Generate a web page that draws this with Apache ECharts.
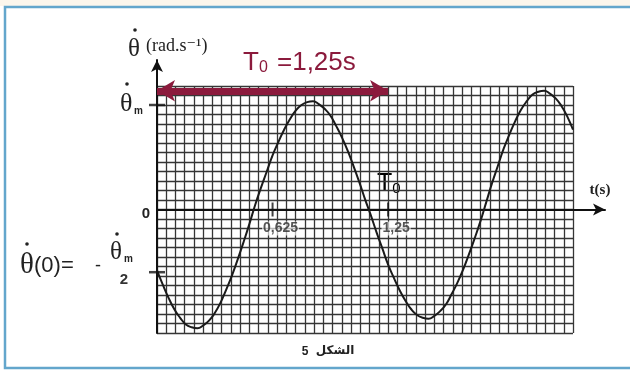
<!DOCTYPE html>
<html style="height: 100%">
<head>
    <meta charset="utf-8">
</head>
<body style="height: 100%; margin: 0; background: #fff">
<div id="container" style="width: 630px; height: 371px"></div>
<script type="text/javascript" src="https://cdn.jsdelivr.net/npm/echarts@6/dist/echarts.min.js"></script>
<script type="text/javascript">
// time (s) and angular velocity (in small divisions)
var times = [0, 0.03125, 0.0625, 0.09375, 0.125, 0.15625, 0.1875, 0.21875, 0.25, 0.28125,
             0.3125, 0.34375, 0.375, 0.40625, 0.4375, 0.46875, 0.5, 0.53125, 0.5625, 0.59375,
             0.625, 0.65625, 0.6875, 0.71875, 0.75, 0.78125, 0.8125, 0.84375, 0.875, 0.90625,
             0.9375, 0.96875, 1.0, 1.03125, 1.0625, 1.09375, 1.125, 1.15625, 1.1875, 1.21875,
             1.25, 1.28125, 1.3125, 1.34375, 1.375, 1.40625, 1.4375, 1.46875, 1.5, 1.53125,
             1.5625, 1.59375, 1.625, 1.65625, 1.6875, 1.71875, 1.75, 1.78125, 1.8125, 1.84375,
             1.875, 1.90625, 1.9375, 1.96875, 2.0, 2.03125, 2.0625, 2.09375, 2.125, 2.15625,
             2.1875, 2.21875, 2.25];
var omega = [-6.4, -7.9, -9.3, -10.5, -11.4, -12.1, -12.4, -12.5, -12.2, -11.7,
             -10.9, -9.8, -8.4, -6.9, -5.2, -3.4, -1.5, 0.5, 2.3, 4.0,
             5.7, 7.1, 8.4, 9.5, 10.4, 11.0, 11.3, 11.4, 11.1, 10.6,
             9.9, 8.8, 7.6, 6.2, 4.6, 2.9, 1.1, -0.6, -2.4, -4.1,
             -5.8, -7.2, -8.5, -9.6, -10.5, -11.1, -11.4, -11.5, -11.2, -10.7,
             -10.0, -8.9, -7.7, -6.3, -4.7, -3.0, -1.2, 0.8, 2.8, 4.6,
             6.4, 7.9, 9.3, 10.5, 11.4, 12.1, 12.4, 12.5, 12.2, 11.7,
             10.9, 9.8, 8.4];
var xTickValues = [0.625, 1.25];
var xTickLabels = ['0,625', '1,25'];
var yMarkValues = [11.0, -6.6];      // θm and -θm/2
var periodFrom = 0, periodTo = 1.25, periodLevel = 12.5;

var dom = document.getElementById("container");
var myChart = echarts.init(dom);

var curve = [];
for (var i = 0; i < times.length; i++) {
    curve.push([times[i], omega[i]]);
}
var xTicks = xTickValues.map(function (v) { return [v, 0]; });
var yMarks = yMarkValues.map(function (v) { return [0, v]; });

var serif = "'Liberation Serif', 'DejaVu Serif', serif";
var sans = "'Liberation Sans', 'DejaVu Sans', sans-serif";
var red = '#8b1a3c';

function txt(x, y, text, font, color, align) {
    return {
        type: 'text', x: x, y: y, silent: true,
        style: { text: text, font: font, fill: color || '#222',
                 textAlign: align || 'left', textVerticalAlign: 'middle' }
    };
}
// the dot of a time derivative, above a theta
function dot(x, y) {
    return { type: 'circle', silent: true, shape: { cx: x, cy: y, r: 1.8 }, style: { fill: '#222' } };
}

option = {
    backgroundColor: '#ffffff',
    animation: false,
    grid: [
        { left: 157, right: 57, top: 86, bottom: 38 },   // graph paper
        { left: 157, right: 25, top: 60, bottom: 38 }    // axes with arrows
    ],
    xAxis: [
        {
            gridIndex: 0, type: 'value', min: 0, max: 2.25, interval: 0.05,
            axisLine: { show: false }, axisTick: { show: false }, axisLabel: { show: false },
            splitLine: { show: true, lineStyle: { color: '#363636', width: 1.3 } }
        },
        {
            gridIndex: 1, type: 'value', min: 0, max: 2.423,
            axisLine: { show: true, onZero: true, symbol: ['none', 'arrow'], symbolSize: [9, 12],
                        lineStyle: { color: '#111', width: 2 } },
            axisTick: { show: false }, axisLabel: { show: false }, splitLine: { show: false }
        }
    ],
    yAxis: [
        {
            gridIndex: 0, type: 'value', min: -13, max: 13, interval: 1,
            axisLine: { show: false }, axisTick: { show: false }, axisLabel: { show: false },
            splitLine: { show: true, lineStyle: { color: '#363636', width: 1.3 } }
        },
        {
            gridIndex: 1, type: 'value', min: -13, max: 15.74,
            axisLine: { show: true, onZero: false, symbol: ['none', 'arrow'], symbolSize: [9, 12],
                        lineStyle: { color: '#111', width: 2 } },
            axisTick: { show: false }, axisLabel: { show: false }, splitLine: { show: false }
        }
    ],
    series: [
        {
            type: 'line', xAxisIndex: 0, yAxisIndex: 0, data: curve,
            smooth: true, showSymbol: false, z: 5,
            lineStyle: { color: '#1a1a1a', width: 2 },
            markLine: {
                silent: true, symbol: ['arrow', 'arrow'], symbolSize: [16, 18],
                lineStyle: { color: red, width: 7, type: 'solid' },
                label: { show: false },
                data: [[{ coord: [periodFrom, periodLevel] }, { coord: [periodTo, periodLevel] }]]
            }
        },
        {
            type: 'scatter', xAxisIndex: 0, yAxisIndex: 0, data: xTicks, z: 6,
            symbol: 'rect', symbolSize: [2, 14], itemStyle: { color: '#111' },
            label: {
                show: true, position: 'inside', offset: [8, 19],
                fontFamily: sans, fontWeight: 'bold', fontSize: 14, color: '#2a2a2a',
                backgroundColor: 'rgba(255,255,255,0.8)', padding: [0, 1],
                formatter: function (p) { return xTickLabels[p.dataIndex]; }
            }
        },
        {
            type: 'scatter', xAxisIndex: 0, yAxisIndex: 0, data: yMarks, z: 6,
            symbol: 'rect', symbolSize: [16, 2.5], itemStyle: { color: '#111' }
        }
    ],
    graphic: [
        { type: 'rect', silent: true, shape: { x: 0, y: 0, width: 630, height: 6 },
          style: { fill: '#fbf6ec' } },
        { type: 'rect', silent: true, shape: { x: 5, y: 7, width: 640, height: 361 },
          style: { fill: null, stroke: '#63a6cc', lineWidth: 2.5 } },
        // y axis title
        txt(128, 49, 'θ', '25px ' + serif),
        dot(135, 30),
        txt(146, 46, '(rad.s⁻¹)', '18px ' + serif),
        // θm label
        txt(120, 104, 'θ', '26px ' + serif),
        dot(127, 84),
        txt(134, 111, 'm', 'bold 10px ' + sans),
        // zero
        txt(146, 214, '0', 'bold 15px ' + sans, '#222', 'center'),
        // θ(0) = -θm/2
        txt(20, 265, 'θ', '29px ' + serif),
        dot(27, 244),
        txt(34, 266, '(0)=', '22px ' + sans),
        txt(95, 266, '-', '18px ' + sans),
        txt(110, 252, 'θ', '25px ' + serif),
        dot(117, 234),
        txt(124, 259, 'm', 'bold 10px ' + sans),
        txt(124, 280, '2', 'bold 15px ' + sans, '#333', 'center'),
        // period annotation
        {
            type: 'text', x: 243, y: 63, silent: true,
            style: {
                text: '{a|T}{b|0}{a| =1,25s}', textVerticalAlign: 'middle', fill: red,
                rich: {
                    a: { fontFamily: sans, fontSize: 26, color: red },
                    b: { fontFamily: sans, fontSize: 16, color: red, padding: [10, 2, 0, 0] }
                }
            }
        },
        {
            type: 'text', x: 377, y: 184, silent: true,
            style: {
                text: '{a|T}{b|0}', textVerticalAlign: 'middle',
                rich: {
                    a: { fontFamily: sans, fontSize: 25, color: '#c43a55' },
                    b: { fontFamily: sans, fontSize: 15, color: '#c43a55', padding: [9, 0, 0, 0] }
                }
            }
        },
        txt(600, 190, 't(s)', 'bold 15px ' + serif, '#222', 'center'),
        txt(305, 352, '5', 'bold 12px ' + sans, '#222', 'center'),
        txt(335, 351, 'الشكل', 'bold 12px ' + "'DejaVu Sans', sans-serif", '#222', 'center')
    ]
};

if (option && typeof option === "object") {
    myChart.setOption(option, true);
}
</script>
</body>
</html>
